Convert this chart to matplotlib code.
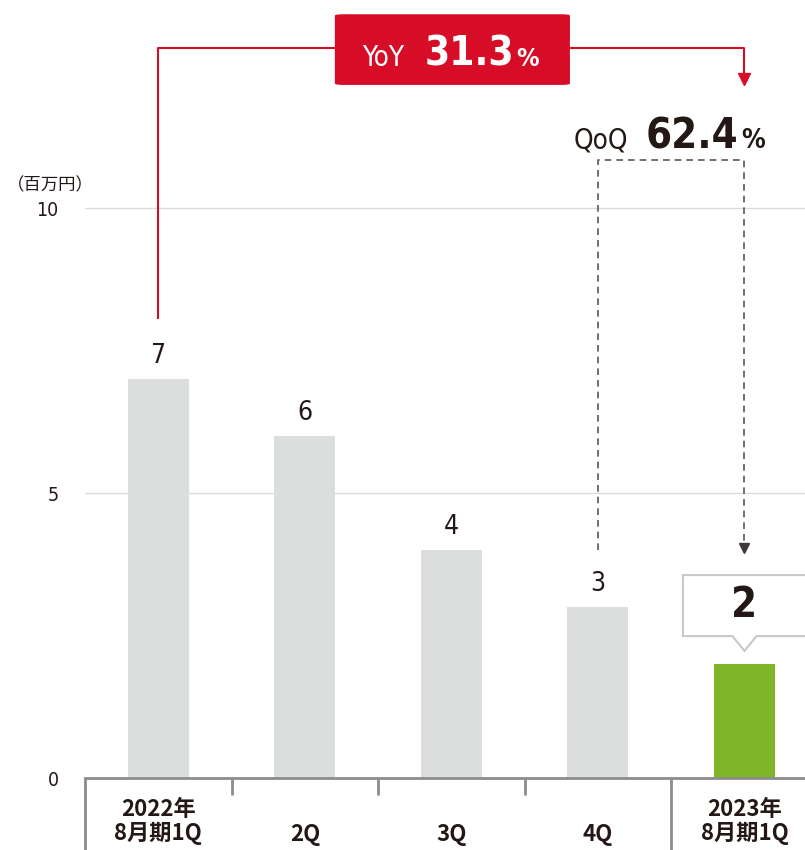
import matplotlib.pyplot as plt
from matplotlib.patches import FancyBboxPatch, Polygon

# data
cats = ['2022年\n8月期1Q', '2Q', '3Q', '4Q', '2023年\n8月期1Q']
values = [7, 6, 4, 3, 2]
yoy = '31.3'
qoq = '62.4'

grey_bar = '#dcdddd'
green = '#7fb527'
red = '#d70c26'
dark = '#231815'

num_font = ['DejaVu Sans']
jp_font = ['Noto Sans CJK JP', 'DejaVu Sans']
cond = 'condensed'

fig = plt.figure(figsize=(8.05, 8.5), dpi=100)
ax = fig.add_axes([85 / 805, 72 / 850, 720 / 805, 778 / 850])

x = list(range(len(values)))
colors = [grey_bar] * (len(values) - 1) + [green]
ax.bar(x, values, width=0.416, color=colors, zorder=2)

ax.set_xlim(-0.5, 4.413)
ax.set_ylim(0, 13.65)

# grid and axis
for g in [5, 10]:
    ax.axhline(g, color='#dcdcdc', lw=1, zorder=1)
for s in ['top', 'right', 'left']:
    ax.spines[s].set_visible(False)
ax.spines['bottom'].set_color('#8c8c8c')
ax.spines['bottom'].set_linewidth(2)

ax.set_yticks([0, 5, 10])
ax.set_yticklabels(['0', '5', '10'], fontsize=14, color=dark,
                   family=num_font, stretch=cond)
ax.tick_params(axis='y', length=0, pad=19)

ax.set_xticks([-0.5, 3.5])
ax.set_xticklabels([])
ax.set_xticks([0.5, 1.5, 2.5], minor=True)
ax.tick_params(axis='x', which='major', length=52, width=2, color='#8c8c8c')
ax.tick_params(axis='x', which='minor', length=12, width=2, color='#8c8c8c')

# category labels
for i, c in enumerate(cats):
    off = -31 if '\n' in c else -41
    ax.annotate(c, (i, 0), xytext=(0, off), textcoords='offset points',
                ha='center', va='center', fontsize=16, fontweight='bold',
                color=dark, family=jp_font, linespacing=1.05,
                annotation_clip=False)

fig.text(50 / 805, 1 - 185 / 850, '（百万円）', ha='center', va='center',
         fontsize=12.5, color=dark, family=jp_font)

# value labels
for i, v in enumerate(values[:-1]):
    ax.text(i, v + 0.18, str(v), ha='center', va='bottom', fontsize=19,
            color=dark, family=num_font, stretch=cond)

# callout for last bar
xl = len(values) - 1
call = Polygon([(3.58, 3.56), (4.7, 3.56), (4.7, 2.49), (xl + 0.082, 2.49),
                (xl, 2.23), (xl - 0.082, 2.49), (3.58, 2.49)],
               closed=True, facecolor='white', edgecolor='#c8c8c8', lw=1.5,
               clip_on=False, zorder=3)
ax.add_patch(call)
ax.text(xl, 3.03, str(values[-1]), ha='center', va='center', fontsize=30,
        fontweight='bold', color=dark, family=num_font, stretch=cond,
        zorder=4)

# YoY bracket
ax.plot([0, 0, 1.205], [8.07, 12.81, 12.81], color=red, lw=1.5,
        clip_on=False, zorder=3)
ax.plot([2.809, xl, xl], [12.81, 12.81, 12.3], color=red, lw=1.5,
        clip_on=False, zorder=3)
ax.plot([xl], [12.26], marker='v', color=red, ms=9, clip_on=False, zorder=3)
box = FancyBboxPatch((1.205, 12.16), 1.604, 1.24,
                     boxstyle='round,pad=0,rounding_size=0.06',
                     mutation_aspect=0.39, facecolor=red, edgecolor='none',
                     clip_on=False, zorder=4)
ax.add_patch(box)
ax.text(1.532, 12.5, 'YoY', ha='center', va='baseline', fontsize=20,
        color='white', family=num_font, stretch=cond, zorder=5)
ax.text(2.126, 12.5, yoy, ha='center', va='baseline', fontsize=29,
        fontweight='bold', color='white', family=num_font, stretch=cond,
        zorder=5)
ax.text(2.52, 12.5, '%', ha='center', va='baseline', fontsize=18,
        fontweight='bold', color='white', family=num_font, stretch=cond,
        zorder=5)

# QoQ bracket
ax.plot([3, 3, xl, xl], [4.0, 10.84, 10.84, 4.15], color='#595757', lw=1.2,
        ls=(0, (4, 3)), clip_on=False, zorder=3)
ax.plot([xl], [4.04], marker='v', color='#3e3a39', ms=7, zorder=3)
ax.text(3.02, 11.05, 'QoQ', ha='center', va='baseline', fontsize=20,
        color=dark, family=num_font, stretch=cond)
ax.text(3.64, 11.05, qoq, ha='center', va='baseline', fontsize=30,
        fontweight='bold', color=dark, family=num_font, stretch=cond)
ax.text(4.06, 11.05, '%', ha='center', va='baseline', fontsize=19,
        fontweight='bold', color=dark, family=num_font, stretch=cond)

fig.savefig('out.png', dpi=100)
